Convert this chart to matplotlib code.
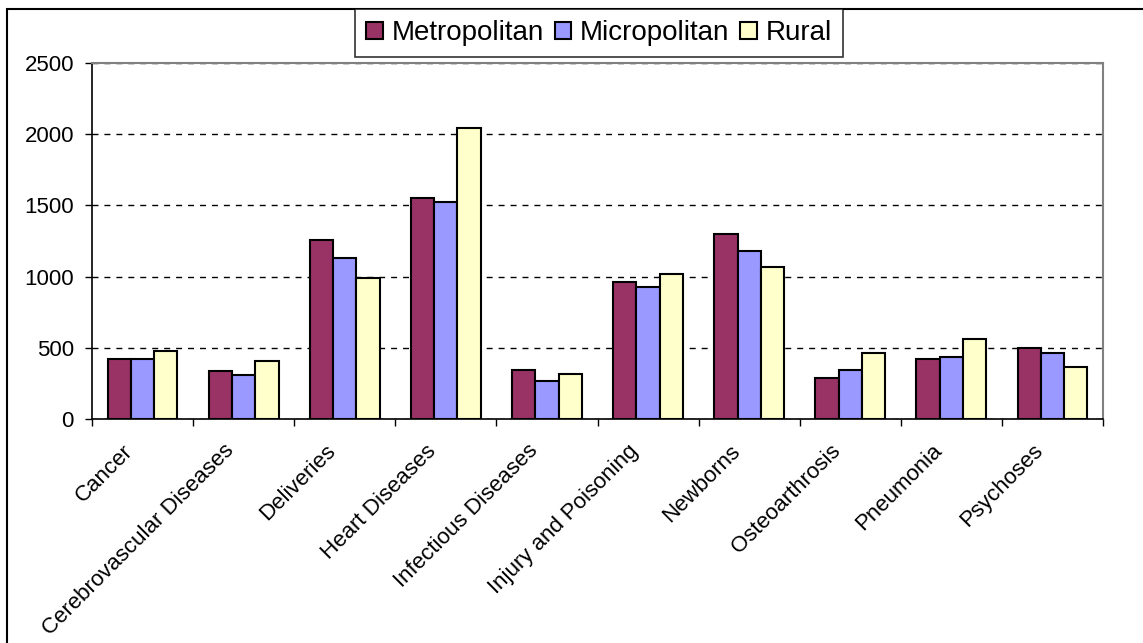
import numpy as np
import matplotlib.pyplot as plt
import matplotlib.transforms as mtrans
from matplotlib.patches import Rectangle
from matplotlib.ticker import FixedLocator

plt.rcParams['font.family'] = ['Liberation Sans', 'DejaVu Sans']

categories = ["Cancer", "Cerebrovascular Diseases", "Deliveries", "Heart Diseases",
              "Infectious Diseases", "Injury and Poisoning", "Newborns",
              "Osteoarthrosis", "Pneumonia", "Psychoses"]
metropolitan = [421, 335, 1259, 1554, 346, 964, 1301, 290, 419, 501]
micropolitan = [420, 307, 1133, 1526, 264, 925, 1177, 346, 433, 461]
rural = [475, 405, 992, 2043, 318, 1020, 1065, 461, 560, 363]
series_names = ["Metropolitan", "Micropolitan", "Rural"]
colors = ["#993366", "#9999FF", "#FFFFCC"]

fig = plt.figure(figsize=(11.43, 6.43), dpi=100)
ax = fig.add_axes([92/1143, 1 - 419/643, (1103 - 92)/1143, (419 - 63)/643])

x = np.arange(len(categories))
w = 0.23
for i, (vals, name) in enumerate(zip([metropolitan, micropolitan, rural], series_names)):
    ax.bar(x + (i - 1)*w, vals, w, color=colors[i], edgecolor="black",
           linewidth=1.5, label=name, zorder=3)

ax.set_xlim(-0.5, len(categories) - 0.5)
ax.set_ylim(0, 2500)
ax.set_yticks(np.arange(0, 2501, 500))
ax.yaxis.grid(True, color="black", linestyle=(0, (4.3, 4.3)), linewidth=1)
ax.set_axisbelow(True)

# category labels centred, tick marks between groups
ax.set_xticks(x)
ax.set_xticklabels(categories, rotation=45, ha="right", va="top",
                   rotation_mode="anchor", fontsize=16)
ax.tick_params(axis="x", which="major", length=0, pad=14)
shift = mtrans.ScaledTranslation(-0.2, -0.02, fig.dpi_scale_trans)
for lbl in ax.get_xticklabels():
    lbl.set_transform(lbl.get_transform() + shift)
ax.xaxis.set_minor_locator(FixedLocator(np.arange(-0.5, len(categories), 1)))
ax.tick_params(axis="x", which="minor", length=5, width=1, direction="out")
ax.tick_params(axis="y", length=5, width=1, labelsize=16, pad=8)

for s in ["top", "right"]:
    ax.spines[s].set_color("#808080")
    ax.spines[s].set_linewidth(1.5)
for s in ["left", "bottom"]:
    ax.spines[s].set_color("black")
    ax.spines[s].set_linewidth(1.2)

# outer chart border
fig.add_artist(Rectangle((7/1143, -0.5), 2, 1.5 - 9/643, transform=fig.transFigure,
                         fill=False, edgecolor="black", linewidth=1.5))

leg = fig.legend(loc="upper center", bbox_to_anchor=(599/1143, 1 - 9/643), ncol=3,
                 fontsize=20, frameon=True, fancybox=False, edgecolor="black",
                 handlelength=0.6, handleheight=0.6, handletextpad=0.3,
                 columnspacing=0.4, borderpad=0.4, borderaxespad=0)
leg.get_frame().set_linewidth(1.2)

fig.savefig("out.png", dpi=100)
